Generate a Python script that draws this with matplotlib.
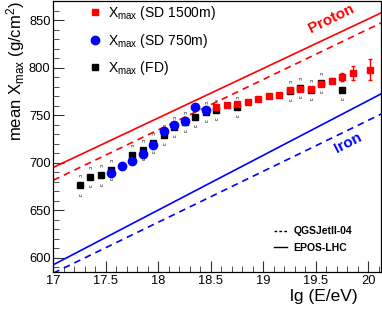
import matplotlib
matplotlib.use("Agg")
import matplotlib.pyplot as plt
from matplotlib.lines import Line2D
import numpy as np

plt.rcParams['font.family'] = ['Liberation Sans', 'DejaVu Sans']
plt.rcParams['mathtext.fontset'] = 'custom'
plt.rcParams['mathtext.rm'] = 'Liberation Sans'
plt.rcParams['mathtext.it'] = 'Liberation Sans:italic'
plt.rcParams['mathtext.bf'] = 'Liberation Sans:bold'

# ---------------- data ----------------
fd_lgE = [17.25, 17.35, 17.45, 17.55, 17.75, 17.85, 17.95, 18.05, 18.15, 18.25,
          18.35, 18.45, 18.55, 18.75, 19.25, 19.35, 19.45, 19.55, 19.75]
fd_xmax = [676.0, 684.5, 686.5, 692.5, 707.6, 713.2, 720.9, 729.2, 737.1, 742.4,
           748.3, 753.5, 755.4, 758.2, 775.0, 778.3, 776.5, 784.0, 776.5]
fd_stat = [1.5, 1.5, 1.5, 1.5, 1.5, 1.5, 1.5, 1.5, 1.5, 1.5,
           1.5, 1.5, 1.5, 1.5, 1.5, 2.0, 2.0, 2.5, 3.5]
fd_sys = [10.0, 9.5, 9.5, 9.5, 9.5, 9.5, 9.5, 9.5, 9.5, 9.5,
          9.5, 9.5, 9.5, 9.5, 9.5, 9.5, 9.5, 9.5, 9.5]

sd750_lgE = [17.55, 17.65, 17.75, 17.85, 17.95, 18.05, 18.15, 18.25, 18.35, 18.45]
sd750_xmax = [688.6, 696.0, 701.6, 709.3, 718.8, 733.5, 739.9, 744.1, 758.9, 755.0]
sd750_err = [1.5, 1.5, 1.5, 1.5, 1.5, 1.5, 1.5, 2.0, 2.0, 2.5]

sd1500_lgE = [18.55, 18.65, 18.75, 18.85, 18.95, 19.05, 19.15, 19.25, 19.35,
              19.45, 19.55, 19.65, 19.75, 19.85, 20.02]
sd1500_xmax = [758.9, 761.0, 761.5, 763.5, 766.7, 770.0, 771.3, 776.0, 777.2,
               777.5, 783.0, 786.3, 789.9, 794.1, 797.6]
sd1500_err = [1.0, 1.0, 1.0, 1.0, 1.0, 1.0, 1.2, 1.5, 1.5, 2.0, 2.5, 3.0, 4.0, 7.7, 11.0]

model_lgE = [17.0, 20.2]
proton_epos = [695.0, 861.6]
proton_qgsjet = [681.5, 851.1]
iron_epos = [592.6, 776.9]
iron_qgsjet = [583.8, 755.3]

# ---------------- figure ----------------
fig = plt.figure(figsize=(3.82, 3.09), dpi=100)
ax = fig.add_axes([53.3 / 382, 1 - 272 / 309, (381 - 53.3) / 382, 271 / 309])
ax.set_xlim(17, 20.12)
ax.set_ylim(585, 870)

red = '#ff0000'
blue = '#0000ff'

ax.plot(model_lgE, proton_epos, color=red, lw=1.2, solid_capstyle='butt')
ax.plot(model_lgE, proton_qgsjet, color=red, lw=1.2, dashes=(4, 3))
ax.plot(model_lgE, iron_epos, color=blue, lw=1.2, solid_capstyle='butt')
ax.plot(model_lgE, iron_qgsjet, color=blue, lw=1.2, dashes=(4, 3))

# systematic brackets for FD
top_br = [(-1, -0.6), (-1, 0.4), (1, 0.4), (1, -0.6)]
bot_br = [(-1, 0.6), (-1, -0.4), (1, -0.4), (1, 0.6)]
fd_up = np.array(fd_xmax) + np.array(fd_sys)
fd_dn = np.array(fd_xmax) - np.array(fd_sys)
ax.plot(fd_lgE, fd_up, ls='none', marker=top_br, ms=2.0, mfc='none',
        mec='#777777', mew=0.6)
ax.plot(fd_lgE, fd_dn, ls='none', marker=bot_br, ms=2.0, mfc='none',
        mec='#777777', mew=0.6)

ax.errorbar(fd_lgE, fd_xmax, yerr=fd_stat, fmt='s', color='black', ms=4.3,
            elinewidth=0.8, capsize=0, zorder=3)
ax.errorbar(sd750_lgE, sd750_xmax, yerr=sd750_err, fmt='o', color=blue, ms=6,
            elinewidth=0.8, capsize=0, zorder=4)
ax.errorbar(sd1500_lgE, sd1500_xmax, yerr=sd1500_err, fmt='s', color=red, ms=4.6,
            elinewidth=1.0, capsize=1.5, zorder=5)

# ticks
ax.set_xticks([17, 17.5, 18, 18.5, 19, 19.5, 20])
ax.set_xticklabels(['17', '17.5', '18', '18.5', '19', '19.5', '20'])
ax.set_xticks(np.arange(17.1, 20.11, 0.1), minor=True)
ax.set_yticks([600, 650, 700, 750, 800, 850])
ax.set_yticks(np.arange(590, 870, 10), minor=True)
ax.tick_params(which='both', direction='in', top=False, right=False,
               labelsize=9.3, color='#333333')
ax.tick_params(which='major', length=8, width=0.8, pad=2)
ax.tick_params(which='minor', length=4, width=0.6)
for s in ax.spines.values():
    s.set_linewidth(0.9)

# labels
fig.text(15.5 / 382, 1 - 1 / 309, r'mean X$_{\rm max}$ (g/cm$^{2}$)', rotation=90,
         ha='center', va='top', fontsize=12)
fig.text(358 / 382, 1 - 297 / 309, 'lg (E/eV)', ha='right', va='center',
         fontsize=12.5)

ax.text(19.645, 851.4, 'Proton', color=red, fontsize=11, fontweight='bold',
        rotation=26, ha='center', va='center', rotation_mode='anchor')
ax.text(19.81, 720.6, 'Iron', color=blue, fontsize=11, fontweight='bold',
        rotation=27, ha='center', va='center', rotation_mode='anchor')

# legend 1
h1 = [Line2D([], [], ls='none', marker='s', color=red, ms=4.6),
      Line2D([], [], ls='none', marker='o', color=blue, ms=6),
      Line2D([], [], ls='none', marker='s', color='black', ms=4.3)]
l1 = [r'X$_{\rm max}$ (SD 1500m)', r'X$_{\rm max}$ (SD 750m)', r'X$_{\rm max}$ (FD)']
leg1 = ax.legend(h1, l1, loc='upper left', bbox_to_anchor=(0.102, 0.993),
                 frameon=False, fontsize=10, handlelength=1.0, handletextpad=0.4,
                 labelspacing=0.68, borderaxespad=0.0, borderpad=0.1)
ax.add_artist(leg1)

# legend 2
h2 = [Line2D([], [], color='black', lw=1.0, dashes=(2, 1.5)),
      Line2D([], [], color='black', lw=1.0)]
l2 = ['QGSJetII-04', 'EPOS-LHC']
ax.legend(h2, l2, loc='upper left', bbox_to_anchor=(0.67, 0.172),
          frameon=False, prop={'weight': 'bold', 'size': 7.5},
          handlelength=1.3, handletextpad=0.6, labelspacing=0.6,
          borderaxespad=0.0, borderpad=0.1)

fig.savefig('out.png', dpi=100)
